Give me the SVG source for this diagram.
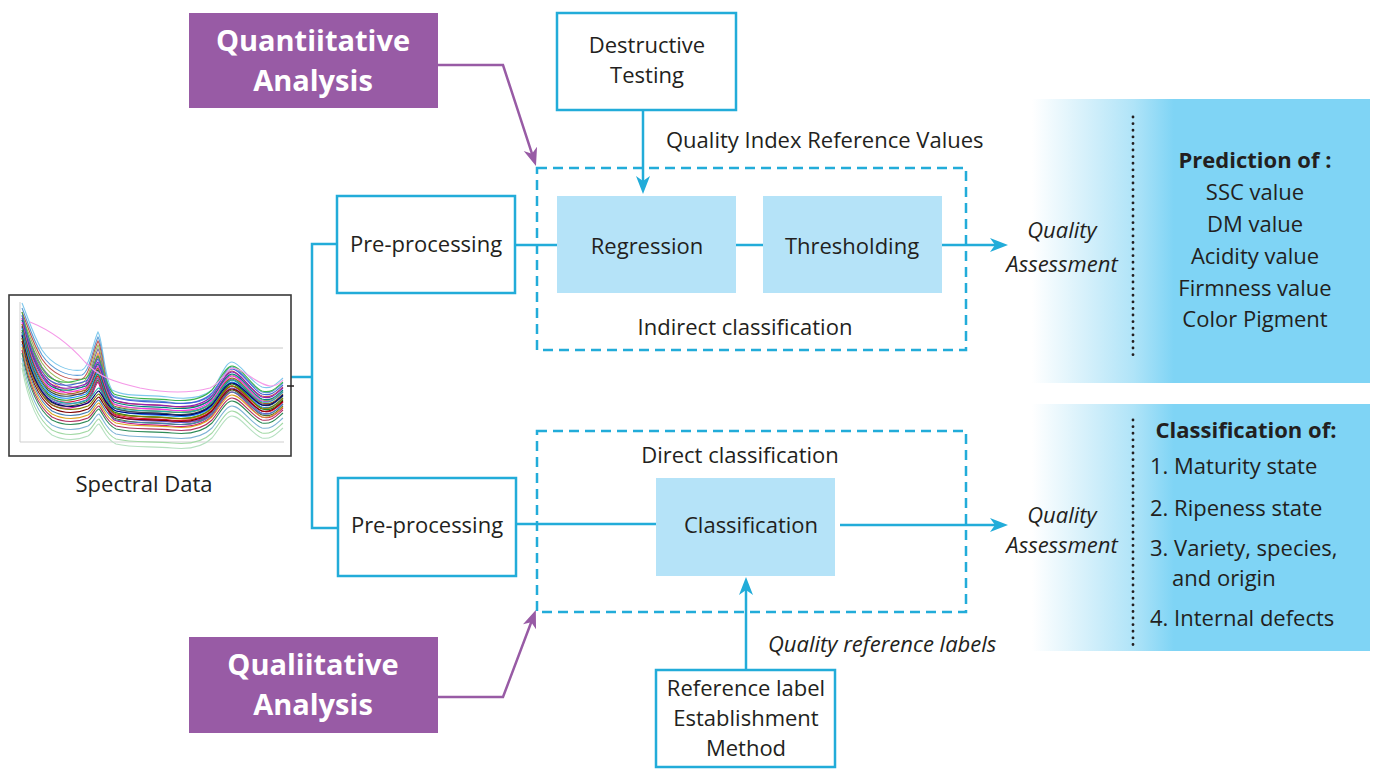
<svg xmlns="http://www.w3.org/2000/svg" xmlns:xlink="http://www.w3.org/1999/xlink" width="1375" height="769" viewBox="0 0 1375 769">
<style>
.t{font-family:"Open Sans","Noto Sans","Liberation Sans",sans-serif;font-size:22px;fill:#231f20;}
.c{text-anchor:middle;}
.i{font-style:italic;}
.b{font-weight:bold;}
.w{font-family:"Open Sans","Noto Sans","Liberation Sans",sans-serif;font-size:29px;font-weight:bold;fill:#ffffff;text-anchor:middle;}
.box{fill:#ffffff;stroke:#22acd9;stroke-width:2.5;}
.fill{fill:#b5e3f8;}
.dash{fill:none;stroke:#22acd9;stroke-width:2.5;stroke-dasharray:10 6;}
.ln{fill:none;stroke:#22acd9;stroke-width:2.5;}
.pl{fill:none;stroke:#985ba5;stroke-width:2.5;}
.purple{fill:#985ba5;}
.dot{fill:none;stroke:#231f20;stroke-width:2.8;stroke-dasharray:0.1 6.5;stroke-linecap:round;}
.sp{fill:none;stroke-width:1.1;}
</style>
<defs>
<marker id="ac" markerUnits="userSpaceOnUse" markerWidth="20" markerHeight="16" refX="10" refY="7" orient="auto"><path d="M0,0 L18,7 L0,14 L5,7 z" fill="#22acd9"/></marker>
<marker id="ap" markerUnits="userSpaceOnUse" markerWidth="20" markerHeight="16" refX="10" refY="7" orient="auto"><path d="M0,0 L18,7 L0,14 L5,7 z" fill="#985ba5"/></marker>
<linearGradient id="g" x1="0" y1="0" x2="1" y2="0">
<stop offset="0" stop-color="#ffffff"/>
<stop offset="0.15" stop-color="#d8f1fb"/>
<stop offset="0.30" stop-color="#b0e4f8"/>
<stop offset="0.42" stop-color="#7fd4f5"/>
<stop offset="1" stop-color="#7fd4f5"/>
</linearGradient>
<clipPath id="cp"><rect x="12" y="298" width="276" height="155"/></clipPath>
<path id="t1" d="M22,303 C27,315 33,335 42,350 C52,365 68,372 82,370 C90,366 93,342 98,332 C103,340 104,378 112,390 C128,398 148,394 168,397 C188,400 202,398 212,390 C220,380 225,362 232,362 C240,362 250,382 262,387 C272,390 278,382 283,378"/>
<path id="t2" d="M22,318 C28,345 36,370 48,382 C60,392 74,388 86,384 C92,380 95,364 98,362 C102,368 105,392 114,400 C130,406 150,404 170,406 C190,408 204,404 212,396 C220,386 226,372 232,372 C241,372 251,392 262,397 C272,400 278,392 283,388"/>
<path id="t3" d="M22,338 C28,370 38,395 52,405 C66,412 78,410 88,406 C93,403 96,394 99,394 C103,398 106,410 116,414 C132,418 152,416 172,418 C192,420 204,416 212,408 C220,398 226,386 232,386 C241,386 251,404 262,408 C272,410 278,402 283,398"/>
</defs>

<g id="connectors">
<polyline class="ln" points="291,377 312,377"/>
<polyline class="ln" points="337,244 312,244 312,528 338,528"/>
<line class="ln" x1="515" y1="245" x2="557" y2="245"/>
<line class="ln" x1="736" y1="245" x2="763" y2="245"/>
<line class="ln" x1="942" y1="245" x2="1000" y2="245" marker-end="url(#ac)"/>
<line class="ln" x1="643" y1="110" x2="643" y2="186" marker-end="url(#ac)"/>
<line class="ln" x1="516" y1="524" x2="660" y2="524"/>
<line class="ln" x1="840" y1="525" x2="1000" y2="525" marker-end="url(#ac)"/>
<line class="ln" x1="746" y1="670" x2="746" y2="585" marker-end="url(#ac)"/>
<polyline class="pl" points="438,65 503,65 533.5,158.4" marker-end="url(#ap)"/>
<polyline class="pl" points="438,697 503,697 533,617.5" marker-end="url(#ap)"/>
</g>

<g id="spectral-data">
<rect x="9" y="295" width="282" height="161" fill="#ffffff" stroke="#3a3a3a" stroke-width="1.6"/>
<line x1="20" y1="302" x2="20" y2="442" stroke="#cfcfcf" stroke-width="1"/>
<line x1="20" y1="442" x2="284" y2="442" stroke="#cfcfcf" stroke-width="1"/>
<line x1="22" y1="348" x2="283" y2="348" stroke="#c8c8c8" stroke-width="1"/>
<g clip-path="url(#cp)">
<use xlink:href="#t1" class="sp" stroke="#7ec8ec" transform="translate(0,0)"/>
<use xlink:href="#t1" class="sp" stroke="#5b9bd5" transform="translate(0,5)"/>
<use xlink:href="#t1" class="sp" stroke="#c0504d" transform="translate(0,9)"/>
<use xlink:href="#t1" class="sp" stroke="#9bbb59" transform="translate(0,13)"/>
<use xlink:href="#t1" class="sp" stroke="#8064a2" transform="translate(0,17)"/>
<use xlink:href="#t1" class="sp" stroke="#f79646" transform="translate(0,21)"/>
<use xlink:href="#t1" class="sp" stroke="#e6194b" transform="translate(0,24)"/>
<use xlink:href="#t2" class="sp" stroke="#3cb44b" transform="translate(0,-6)"/>
<use xlink:href="#t2" class="sp" stroke="#4363d8" transform="translate(0,-3)"/>
<use xlink:href="#t2" class="sp" stroke="#911eb4" transform="translate(0,0)"/>
<use xlink:href="#t2" class="sp" stroke="#008080" transform="translate(0,2)"/>
<use xlink:href="#t2" class="sp" stroke="#f032e6" transform="translate(0,4)"/>
<use xlink:href="#t2" class="sp" stroke="#9a6324" transform="translate(0,6)"/>
<use xlink:href="#t2" class="sp" stroke="#2f4f4f" transform="translate(0,8)"/>
<use xlink:href="#t2" class="sp" stroke="#1e90ff" transform="translate(0,10)"/>
<use xlink:href="#t2" class="sp" stroke="#228b22" transform="translate(0,12)"/>
<use xlink:href="#t2" class="sp" stroke="#dc143c" transform="translate(0,14)"/>
<use xlink:href="#t2" class="sp" stroke="#6a5acd" transform="translate(0,16)"/>
<use xlink:href="#t2" class="sp" stroke="#556b2f" transform="translate(0,18)"/>
<use xlink:href="#t2" class="sp" stroke="#c71585" transform="translate(0,20)"/>
<use xlink:href="#t3" class="sp" stroke="#20b2aa" transform="translate(0,-6)"/>
<use xlink:href="#t3" class="sp" stroke="#000075" transform="translate(0,-3)"/>
<use xlink:href="#t3" class="sp" stroke="#808000" transform="translate(0,0)"/>
<use xlink:href="#t3" class="sp" stroke="#800000" transform="translate(0,3)"/>
<use xlink:href="#t3" class="sp" stroke="#4682b4" transform="translate(0,6)"/>
<use xlink:href="#t3" class="sp" stroke="#daa520" transform="translate(0,9)"/>
<use xlink:href="#t3" class="sp" stroke="#b03060" transform="translate(0,12)"/>
<use xlink:href="#t3" class="sp" stroke="#2e8b57" transform="translate(0,15)"/>
<use xlink:href="#t3" class="sp" stroke="#7fb3d5" transform="translate(0,20)"/>
<use xlink:href="#t3" class="sp" stroke="#a3d9a5" transform="translate(0,25)"/>
<use xlink:href="#t3" class="sp" stroke="#b5e0c0" transform="translate(0,30)"/>
<path class="sp" stroke="#f59ae8" d="M30,322 C50,330 70,345 85,362 C100,378 115,382 140,388 C170,394 195,392 210,388 C222,382 226,370 232,368 C244,368 255,384 270,386 C278,386 281,382 283,380"/>
</g>
<line x1="287" y1="386" x2="294" y2="386" stroke="#231f20" stroke-width="1.5"/>
<text class="t c" x="144" y="492">Spectral Data</text>
</g>

<g id="quantitative-analysis">
<rect class="purple" x="189" y="13" width="249" height="95"/>
<text class="w" x="313" y="51">Quantiitative</text>
<text class="w" x="313" y="91">Analysis</text>
</g>

<g id="qualitative-analysis">
<rect class="purple" x="189" y="637" width="249" height="96"/>
<text class="w" x="313" y="675">Qualiitative</text>
<text class="w" x="313" y="715">Analysis</text>
</g>

<g id="preprocessing-1">
<rect class="box" x="337" y="196" width="178" height="97"/>
<text class="t c" x="426" y="252">Pre-processing</text>
</g>

<g id="preprocessing-2">
<rect class="box" x="338" y="478" width="178" height="98"/>
<text class="t c" x="427" y="533">Pre-processing</text>
</g>

<g id="destructive-testing">
<rect class="box" x="557" y="13" width="179" height="97"/>
<text class="t c" x="647" y="53">Destructive</text>
<text class="t c" x="647" y="83">Testing</text>
</g>
<text class="t" x="666" y="148">Quality Index Reference Values</text>

<g id="indirect-classification">
<rect class="dash" x="537" y="168" width="429" height="182"/>
<text class="t c" x="745" y="335">Indirect classification</text>
</g>

<g id="regression">
<rect class="fill" x="557" y="196" width="179" height="97"/>
<text class="t c" x="647" y="254">Regression</text>
</g>

<g id="thresholding">
<rect class="fill" x="763" y="196" width="179" height="97"/>
<text class="t c" x="852" y="254">Thresholding</text>
</g>

<g id="direct-classification">
<rect class="dash" x="537" y="431" width="429" height="181"/>
<text class="t c" x="740" y="463">Direct classification</text>
</g>

<g id="classification">
<rect class="fill" x="656" y="478" width="179" height="98"/>
<text class="t c" x="751" y="533">Classification</text>
</g>

<text class="t i" x="768" y="652">Quality reference labels</text>

<g id="reference-label">
<rect class="box" x="656" y="670" width="179" height="97"/>
<text class="t c" x="746" y="696">Reference label</text>
<text class="t c" x="746" y="726">Establishment</text>
<text class="t c" x="746" y="756">Method</text>
</g>

<g id="prediction-panel">
<rect x="1032" y="99" width="338" height="284" fill="url(#g)"/>
<line class="dot" x1="1133" y1="117" x2="1133" y2="357"/>
<text class="t i c" x="1062" y="238">Quality</text>
<text class="t i c" x="1062" y="272">Assessment</text>
<text class="t b c" x="1255" y="168">Prediction of :</text>
<text class="t c" x="1255" y="200">SSC value</text>
<text class="t c" x="1255" y="232">DM value</text>
<text class="t c" x="1255" y="264">Acidity value</text>
<text class="t c" x="1255" y="296">Firmness value</text>
<text class="t c" x="1255" y="327">Color Pigment</text>
</g>

<g id="classification-panel">
<rect x="1032" y="404" width="338" height="247" fill="url(#g)"/>
<line class="dot" x1="1133" y1="420" x2="1133" y2="648"/>
<text class="t i c" x="1062" y="523">Quality</text>
<text class="t i c" x="1062" y="553">Assessment</text>
<text class="t b c" x="1246" y="438">Classification of:</text>
<text class="t" x="1150" y="474">1. Maturity state</text>
<text class="t" x="1150" y="516">2. Ripeness state</text>
<text class="t" x="1150" y="556">3. Variety, species,</text>
<text class="t" x="1172" y="586">and origin</text>
<text class="t" x="1150" y="626">4. Internal defects</text>
</g>
</svg>
